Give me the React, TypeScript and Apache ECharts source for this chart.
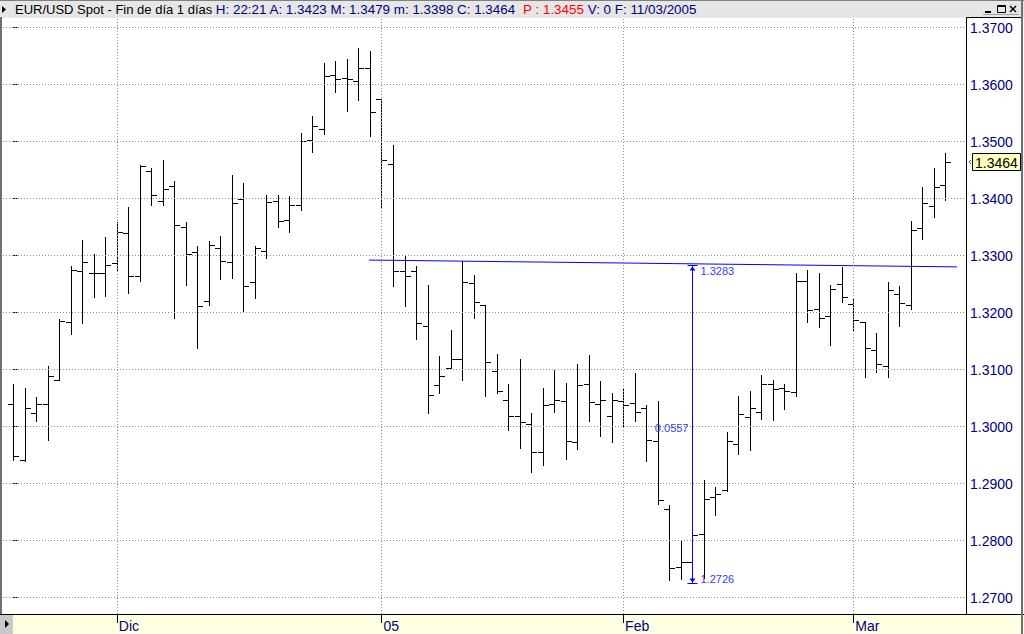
import React, { useEffect, useRef } from "react";
import * as echarts from "echarts";

// Daily EUR/USD bars, 18/11/2004 .. 11/03/2005 (index = trading day)
const opens = [
  1.3039, 1.2941, 1.3023, 1.3040, 1.3081, 1.3183, 1.3272, 1.3270, 1.3270, 1.3287,
  1.3340, 1.3264, 1.3448, 1.3395, 1.3422, 1.3350, 1.3307, 1.3221, 1.3314, 1.3289,
  1.3399, 1.3254, 1.3308, 1.3395, 1.3362, 1.3388, 1.3503, 1.3522, 1.3617, 1.3611,
  1.3606, 1.3629, 1.3575, 1.3461, 1.3272, 1.3272, 1.3177, 1.3072, 1.3103, 1.3118,
  1.3251, 1.3214, 1.3098, 1.3046, 1.3018, 1.3005, 1.2956, 1.3039, 1.3044, 1.2972,
  1.3074, 1.3040, 1.3019, 1.3044, 1.3041, 1.3032, 1.2975, 1.2856, 1.2753, 1.2762,
  1.2811, 1.2877, 1.2888, 1.2970, 1.3017, 1.3025, 1.3074, 1.3068, 1.3060, 1.3256,
  1.3207, 1.3193, 1.3250, 1.3215, 1.3183, 1.3135, 1.3106, 1.3233, 1.3214, 1.3348,
  1.3387, 1.3423,
];
const highs = [
  1.3074, 1.3068, 1.3052, 1.3106, 1.3189, 1.3282, 1.3327, 1.3303, 1.3333, 1.3359,
  1.3385, 1.3458, 1.3454, 1.3468, 1.3431, 1.3359, 1.3316, 1.3326, 1.3334, 1.3442,
  1.3428, 1.3316, 1.3407, 1.3407, 1.3404, 1.3515, 1.3545, 1.3637, 1.3641, 1.3645,
  1.3664, 1.3659, 1.3575, 1.3494, 1.3301, 1.3281, 1.3249, 1.3123, 1.3170, 1.3290,
  1.3265, 1.3214, 1.3127, 1.3074, 1.3118, 1.3023, 1.3067, 1.3099, 1.3076, 1.3109,
  1.3125, 1.3079, 1.3059, 1.3067, 1.3093, 1.3037, 1.3044, 1.2863, 1.2799, 1.2817,
  1.2906, 1.2894, 1.2991, 1.3053, 1.3063, 1.3090, 1.3082, 1.3075, 1.3269, 1.3274,
  1.3269, 1.3249, 1.3279, 1.3226, 1.3183, 1.3164, 1.3253, 1.3247, 1.3360, 1.3421,
  1.3454, 1.3479,
];
const lows = [
  1.2941, 1.2939, 1.3010, 1.2976, 1.3081, 1.3163, 1.3181, 1.3227, 1.3229, 1.3275,
  1.3235, 1.3255, 1.3388, 1.3388, 1.3191, 1.3249, 1.3138, 1.3214, 1.3258, 1.3260,
  1.3202, 1.3225, 1.3295, 1.3350, 1.3341, 1.3380, 1.3481, 1.3513, 1.3586, 1.3553,
  1.3572, 1.3509, 1.3383, 1.3246, 1.3211, 1.3154, 1.3024, 1.3059, 1.3102, 1.3082,
  1.3190, 1.3054, 1.3059, 1.2994, 1.2963, 1.2921, 1.2933, 1.3026, 1.2943, 1.2960,
  1.3010, 1.2984, 1.2973, 1.2999, 1.3009, 1.2940, 1.2864, 1.2731, 1.2732, 1.2726,
  1.2734, 1.2845, 1.2887, 1.2951, 1.2959, 1.3014, 1.3011, 1.3030, 1.3053, 1.3183,
  1.3174, 1.3143, 1.3218, 1.3167, 1.3087, 1.3096, 1.3087, 1.3176, 1.3206, 1.3329,
  1.3368, 1.3398,
];
const closes = [
  1.2948, 1.3032, 1.3039, 1.3088, 1.3185, 1.3274, 1.3289, 1.3270, 1.3284, 1.3342,
  1.3264, 1.3457, 1.3406, 1.3416, 1.3354, 1.3303, 1.3212, 1.3319, 1.3291, 1.3392,
  1.3247, 1.3314, 1.3393, 1.3361, 1.3388, 1.3501, 1.3527, 1.3615, 1.3609, 1.3609,
  1.3629, 1.3552, 1.3468, 1.3272, 1.3264, 1.3182, 1.3056, 1.3088, 1.3118, 1.3254,
  1.3218, 1.3114, 1.3063, 1.3019, 1.3008, 1.2955, 1.3037, 1.3046, 1.2975, 1.3072,
  1.3043, 1.3046, 1.3046, 1.3037, 1.3025, 1.2977, 1.2871, 1.2751, 1.2762, 1.2810,
  1.2872, 1.2881, 1.2975, 1.3022, 1.3033, 1.3074, 1.3065, 1.3062, 1.3256, 1.3204,
  1.3191, 1.3242, 1.3228, 1.3186, 1.3138, 1.3109, 1.3240, 1.3217, 1.3344, 1.3392,
  1.3420, 1.3464,
];

const yTickValues = [1.27, 1.28, 1.29, 1.3, 1.31, 1.32, 1.33, 1.34, 1.35, 1.36, 1.37];
const monthTickIndex = [9, 32, 53, 73];
const monthLabels = ["Dic", "05", "Feb", "Mar"];

// trend line drawn on the chart (index, price)
const trendLine = [
  [30.91, 1.3292],
  [82.02, 1.328],
];
// measuring tool
const measureIndex = 59;
const measureTop = 1.3283;
const measureBottom = 1.2726;

// header info
const headerName = "EUR/USD Spot - Fin de día 1 días";
const headerTime = "22:21";
const headerPrev = 1.3455;
const headerVolume = 0;
const headerDate = "11/03/2005";

const FONT = "'Liberation Sans', Arial, sans-serif";
const X_MIN = -0.895;
const X_MAX = 82.8;
const Y_MIN = 1.3 - 187.5 / 5700;
const Y_MAX = 1.3 + 408.5 / 5700;

export default function App() {
  const ref = useRef<HTMLDivElement>(null);

  useEffect(() => {
    if (!ref.current) return;
    const chart = echarts.init(ref.current, undefined, { renderer: "svg" });
    const last = opens.length - 1;
    const ohlc = opens.map((o, i) => [i, o, highs[i], lows[i], closes[i]]);

    const headerText =
      `{n|${headerName}} {v|H: ${headerTime} A: ${opens[last].toFixed(4)} M: ${highs[last].toFixed(4)} m: ${lows[last].toFixed(4)} C: ${closes[last].toFixed(4)}}  ` +
      `{p|P : ${headerPrev.toFixed(4)}} {v|V: ${headerVolume} F: ${headerDate}}`;

    const option: any = {
      animation: false,
      backgroundColor: "#ffffff",
      title: {
        text: headerText,
        left: 15,
        top: 1,
        padding: 0,
        textStyle: {
          fontFamily: FONT,
          fontSize: 13,
          fontWeight: "normal",
          color: "#000080",
          lineHeight: 16,
          rich: {
            n: { fontFamily: FONT, fontSize: 13, color: "#000000", lineHeight: 16 },
            v: { fontFamily: FONT, fontSize: 13.4, color: "#000080", lineHeight: 16 },
            p: { fontFamily: FONT, fontSize: 13.4, color: "#ff0000", lineHeight: 16 },
          },
        },
      },
      grid: { left: 3, top: 18, right: 58, bottom: 20, containLabel: false },
      xAxis: {
        type: "value",
        min: X_MIN,
        max: X_MAX,
        axisLine: { show: false },
        axisTick: {
          show: true,
          customValues: monthTickIndex,
          length: 9,
          lineStyle: { color: "#000000", width: 1 },
        },
        axisLabel: {
          show: true,
          customValues: monthTickIndex,
          formatter: (v: number) => {
            const k = monthTickIndex.findIndex((m) => Math.abs(m - v) < 0.01);
            return k >= 0 ? monthLabels[k] : "";
          },
          align: "left",
          verticalAlign: "top",
          margin: 5,
          padding: [0, 0, 0, 2],
          color: "#000080",
          fontFamily: FONT,
          fontSize: 14,
        },
        splitLine: { show: false },
      },
      yAxis: {
        type: "value",
        position: "right",
        min: Y_MIN,
        max: Y_MAX,
        axisLine: { show: false },
        axisTick: {
          show: true,
          customValues: yTickValues,
          length: 4,
          lineStyle: { color: "#000000", width: 1 },
        },
        axisLabel: {
          show: true,
          customValues: yTickValues,
          formatter: (v: number) => v.toFixed(4),
          margin: 4,
          color: "#000080",
          fontFamily: FONT,
          fontSize: 14,
        },
        splitLine: { show: false },
      },
      graphic: [
        { type: "rect", z: -10, shape: { x: 0, y: 0, width: 1024, height: 18 }, style: { fill: "#e6e6e6" } },
        { type: "line", z: 10, shape: { x1: 0, y1: 0.5, x2: 1024, y2: 0.5 }, style: { stroke: "#808080", lineWidth: 1 } },
        { type: "polygon", z: 10, shape: { points: [[2, 6], [6, 9.5], [2, 13]] }, style: { fill: "#000000" } },
        // window buttons
        { type: "rect", z: 10, shape: { x: 985, y: 11, width: 6, height: 2 }, style: { fill: "#000000" } },
        { type: "rect", z: 10, shape: { x: 997.5, y: 5.5, width: 8, height: 7 }, style: { fill: "none", stroke: "#000000", lineWidth: 1 } },
        { type: "line", z: 10, shape: { x1: 997.5, y1: 6.5, x2: 1005.5, y2: 6.5 }, style: { stroke: "#000000", lineWidth: 1 } },
        { type: "line", z: 10, shape: { x1: 1010, y1: 6, x2: 1016, y2: 12 }, style: { stroke: "#000000", lineWidth: 1.5 } },
        { type: "line", z: 10, shape: { x1: 1016, y1: 6, x2: 1010, y2: 12 }, style: { stroke: "#000000", lineWidth: 1.5 } },
        { type: "line", z: 10, shape: { x1: 983, y1: 14.5, x2: 1019, y2: 14.5 }, style: { stroke: "#a0a0a0", lineWidth: 1 } },
        // bottom band
        { type: "rect", z: -10, shape: { x: 0, y: 614, width: 1024, height: 20 }, style: { fill: "#ffffe1" } },
        { type: "rect", z: -9, shape: { x: 0, y: 615, width: 13, height: 19 }, style: { fill: "#c8c8c8" } },
        { type: "polygon", z: 10, shape: { points: [[5, 620], [9, 624], [5, 628]] }, style: { fill: "#000000" } },
        { type: "line", z: 10, shape: { x1: 0, y1: 614.5, x2: 1024, y2: 614.5 }, style: { stroke: "#000000", lineWidth: 1 } },
        // frame
        { type: "line", z: 10, shape: { x1: 1, y1: 17, x2: 1, y2: 614 }, style: { stroke: "#707070", lineWidth: 2 } },
        { type: "line", z: 10, shape: { x1: 966.5, y1: 17.5, x2: 966.5, y2: 614 }, style: { stroke: "#000000", lineWidth: 1 } },
        { type: "line", z: 10, shape: { x1: 966.5, y1: 17.5, x2: 1021, y2: 17.5 }, style: { stroke: "#000000", lineWidth: 1 } },
        { type: "line", z: 10, shape: { x1: 1022, y1: 0, x2: 1022, y2: 634 }, style: { stroke: "#707070", lineWidth: 2 } },
      ],
      series: [
        {
          type: "line",
          name: "trend",
          data: trendLine,
          symbol: "none",
          silent: true,
          z: 1,
          lineStyle: { color: "#0000ff", width: 1 },
          markLine: {
            silent: true,
            symbol: ["none", "none"],
            label: { show: false },
            lineStyle: { color: "#8c8c8c", type: [1, 2], width: 1 },
            emphasis: { disabled: true },
            data: [
              ...yTickValues.map((v) => ({ yAxis: v })),
              ...monthTickIndex.map((v) => ({ xAxis: v })),
            ],
          },
        },
        {
          type: "custom",
          name: "EUR/USD",
          data: ohlc,
          encode: { x: 0, y: [1, 2, 3, 4] },
          z: 3,
          silent: true,
          renderItem: (params: any, api: any) => {
            const i = api.value(0);
            const pO = api.coord([i, api.value(1)]);
            const yH = api.coord([i, api.value(2)])[1];
            const yL = api.coord([i, api.value(3)])[1];
            const yC = api.coord([i, api.value(4)])[1];
            const px = Math.round(pO[0]);
            const cx = px + 0.5;
            const style = { stroke: "#000000", lineWidth: 1 };
            const yo = Math.round(pO[1]) + 0.5;
            const yc = Math.round(yC) + 0.5;
            return {
              type: "group",
              children: [
                { type: "line", shape: { x1: cx, y1: Math.round(yH), x2: cx, y2: Math.round(yL) + 1 }, style },
                { type: "line", shape: { x1: px - 5, y1: yo, x2: px + 1, y2: yo }, style },
                { type: "line", shape: { x1: px, y1: yc, x2: px + 6, y2: yc }, style },
              ],
            };
          },
        },
        {
          type: "custom",
          name: "measure",
          data: [[measureIndex, measureTop, measureBottom]],
          encode: { x: 0, y: [1, 2] },
          z: 5,
          silent: true,
          clip: false,
          renderItem: (params: any, api: any) => {
            const i = api.value(0);
            const top = api.value(1);
            const bot = api.value(2);
            const pT = api.coord([i, top]);
            const yB = api.coord([i, bot])[1];
            const cx = Math.round(pT[0]) + 0.5;
            const yt = Math.round(pT[1]) + 0.5;
            const yb = Math.round(yB) + 0.5;
            const blue = "#0000ff";
            const tc = "#3a3aff";
            const ls = { stroke: blue, lineWidth: 1 };
            const ts = { fontFamily: FONT, fontSize: 11, fill: tc };
            return {
              type: "group",
              children: [
                { type: "line", shape: { x1: cx, y1: yt, x2: cx, y2: yb }, style: ls },
                { type: "line", shape: { x1: cx - 5, y1: yt, x2: cx + 5, y2: yt }, style: ls },
                { type: "polygon", shape: { points: [[cx - 3, yt + 5], [cx, yt + 1], [cx + 3, yt + 5]] }, style: { fill: blue } },
                { type: "line", shape: { x1: cx - 5, y1: yb, x2: cx + 5, y2: yb }, style: ls },
                { type: "polygon", shape: { points: [[cx - 3, yb - 5], [cx, yb - 1], [cx + 3, yb - 5]] }, style: { fill: blue } },
                { type: "text", style: { ...ts, x: cx + 8, y: yt + 5, text: top.toFixed(4), verticalAlign: "middle", align: "left" } },
                { type: "text", style: { ...ts, x: cx - 4, y: (yt + yb) / 2 + 3, text: (top - bot).toFixed(4), verticalAlign: "middle", align: "right" } },
                { type: "text", style: { ...ts, x: cx + 8, y: yb - 5, text: bot.toFixed(4), verticalAlign: "middle", align: "left" } },
              ],
            };
          },
        },
        {
          type: "custom",
          name: "last",
          data: [[last, closes[last]]],
          encode: { x: 0, y: 1 },
          z: 6,
          silent: true,
          clip: false,
          renderItem: (params: any, api: any) => {
            const p = api.coord([api.value(0), api.value(1)]);
            const cs = params.coordSys;
            const right = cs.x + cs.width;
            const yy = Math.round(p[1]);
            return {
              type: "group",
              children: [
                { type: "polyline", shape: { points: [[right + 5, yy - 2], [right + 3, yy], [right + 5, yy + 2]] }, style: { stroke: "#606060", lineWidth: 1, fill: "none" } },
                { type: "rect", shape: { x: right + 6.5, y: yy - 8.5, width: 48, height: 17 }, style: { fill: "#ffffc0", stroke: "#000000", lineWidth: 1 } },
                { type: "text", style: { x: right + 9, y: yy + 0.5, text: api.value(1).toFixed(4), fontFamily: FONT, fontSize: 14, fill: "#000000", verticalAlign: "middle", align: "left" } },
              ],
            };
          },
        },
      ],
    };

    chart.setOption(option);
    return () => chart.dispose();
  }, []);

  return (
    <div
      ref={ref}
      style={{ position: "fixed", left: 0, top: 0, width: 1024, height: 634, background: "#ffffff" }}
    />
  );
}
